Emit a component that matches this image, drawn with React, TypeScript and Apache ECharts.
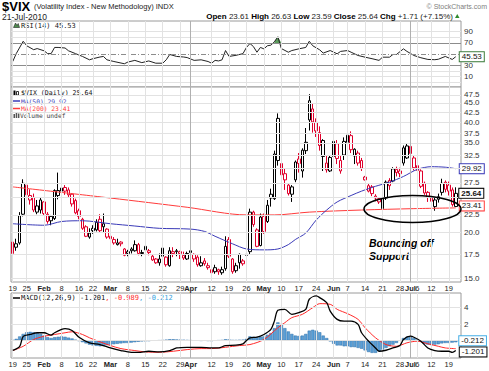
import React, { useEffect, useRef } from "react";
import * as echarts from "echarts";

// ---------- trading days (Jan 19 – Jul 21, 2010) ----------
const janDays = [19, 20, 21, 22, 25, 26, 27, 28, 29];
const febDays = [1, 2, 3, 4, 5, 8, 9, 10, 11, 12, 16, 17, 18, 19, 22, 23, 24, 25, 26];
const marDays = [1, 2, 3, 4, 5, 8, 9, 10, 11, 12, 15, 16, 17, 18, 19, 22, 23, 24, 25, 26, 29, 30, 31];
const aprDays = [1, 5, 6, 7, 8, 9, 12, 13, 14, 15, 16, 19, 20, 21, 22, 23, 26, 27, 28, 29, 30];
const mayDays = [3, 4, 5, 6, 7, 10, 11, 12, 13, 14, 17, 18, 19, 20, 21, 24, 25, 26, 27, 28];
const junDays = [1, 2, 3, 4, 7, 8, 9, 10, 11, 14, 15, 16, 17, 18, 21, 22, 23, 24, 25, 28, 29, 30];
const julDays = [1, 2, 6, 7, 8, 9, 12, 13, 14, 15, 16, 19, 20, 21];
const monthNames = ["Jan", "Feb", "Mar", "Apr", "May", "Jun", "Jul"];

// ---------- $VIX daily OHLC ----------
const opens = [
  18.9, 18.3, 18.8, 22.5, 27.0, 25.3, 25.0, 22.8, 23.1,
  24.3, 22.5, 22.2, 21.9, 25.3, 26.0, 26.6, 26.2, 25.5, 24.5, 23.0, 21.8, 20.8, 19.5, 20.3, 20.4, 21.8, 21.2, 20.5,
  19.6, 19.2, 18.6, 18.9, 18.1, 17.6, 18.1, 17.9, 18.6, 17.7, 18.4, 17.9, 17.3, 17.0, 16.6, 18.2, 17.2, 16.3, 17.8, 17.9, 17.8, 17.4, 17.0,
  17.9, 17.5, 17.2, 16.3, 16.8, 16.3, 15.9, 15.7, 15.9, 15.6, 16.0, 19.2, 17.0, 15.8, 17.5, 16.8, 17.4, 17.8, 22.8, 20.4, 18.5,
  22.2, 21.5, 25.5, 24.8, 31.5, 30.9, 29.0, 27.0, 25.5, 27.9, 31.8, 29.5, 33.5, 40.6, 43.5, 40.0, 37.5, 32.3, 31.0, 29.5,
  32.3, 35.0, 31.5, 32.6, 35.3, 36.8, 32.4, 33.0, 31.5, 27.9, 26.9, 26.7, 25.2, 24.8, 23.3, 24.9, 27.8, 27.7, 29.8, 29.5, 31.0, 32.0,
  34.4, 32.0, 30.5, 29.5, 27.3, 25.8, 24.9, 23.6, 24.7, 25.8, 27.5, 27.0, 26.2, 23.61,
];
const closes = [
  17.6, 18.7, 22.3, 27.3, 25.4, 24.6, 23.1, 23.7, 24.6,
  22.6, 21.5, 21.6, 26.1, 26.1, 26.5, 26.0, 25.4, 24.0, 22.7, 22.2, 20.6, 19.6, 20.0, 20.6, 21.4, 20.3, 20.8, 19.5,
  19.3, 18.8, 18.8, 18.7, 17.4, 17.8, 17.9, 18.6, 17.6, 17.6, 18.0, 17.7, 16.9, 16.6, 17.0, 17.3, 16.4, 17.9, 17.6, 17.8, 17.6, 17.1, 17.6,
  17.7, 17.0, 16.4, 16.6, 16.5, 16.1, 15.6, 16.1, 15.7, 15.9, 18.4, 17.3, 15.7, 16.3, 16.6, 16.5, 17.5, 22.8, 21.1, 18.4, 22.1,
  20.2, 23.8, 24.9, 32.8, 41.0, 28.8, 27.9, 25.6, 26.7, 31.2, 30.9, 33.6, 35.3, 45.8, 40.1, 37.9, 34.6, 35.7, 29.7, 32.1,
  35.5, 31.9, 29.5, 35.5, 36.9, 33.7, 33.8, 31.0, 30.0, 28.4, 26.0, 25.6, 24.9, 24.3, 24.9, 27.5, 26.9, 29.9, 29.2, 29.0, 34.1, 34.5,
  32.9, 30.1, 29.6, 26.8, 25.7, 25.0, 24.4, 24.6, 25.1, 27.3, 26.3, 26.0, 23.9, 25.64,
];
const lows = [
  17.5, 17.9, 18.6, 22.2, 24.9, 23.9, 22.8, 22.5, 22.6,
  22.4, 21.2, 21.0, 21.7, 24.7, 25.5, 25.4, 25.0, 23.6, 22.5, 21.8, 20.4, 19.5, 19.3, 19.9, 20.2, 20.1, 20.0, 19.3,
  19.0, 18.6, 18.5, 18.4, 17.3, 17.3, 17.6, 17.8, 17.4, 17.3, 17.8, 17.4, 16.8, 16.5, 16.3, 16.8, 16.2, 16.2, 17.2, 17.3, 17.0, 16.9, 16.9,
  17.3, 16.7, 16.2, 16.2, 16.3, 15.9, 15.2, 15.5, 15.4, 15.4, 15.8, 17.1, 15.5, 15.6, 16.0, 16.3, 16.9, 17.5, 20.8, 18.3, 18.4,
  19.9, 21.3, 23.6, 24.6, 30.5, 27.5, 26.2, 25.3, 24.3, 27.5, 29.2, 28.3, 32.8, 38.0, 37.5, 36.5, 33.5, 29.5, 29.2, 29.3,
  32.0, 30.8, 29.0, 31.6, 34.6, 33.0, 30.8, 30.5, 29.5, 27.8, 25.8, 25.2, 24.4, 24.0, 22.9, 24.6, 26.2, 27.5, 28.5, 28.4, 30.5, 31.8,
  31.5, 29.6, 29.0, 26.5, 25.4, 24.3, 23.2, 23.0, 24.2, 25.3, 25.8, 25.3, 23.6, 23.59,
];
const highs = [
  19.2, 19.3, 22.8, 28.0, 27.1, 26.3, 25.6, 24.6, 25.0,
  24.4, 22.8, 22.4, 26.3, 29.2, 27.3, 27.0, 26.6, 25.7, 24.8, 23.3, 22.0, 21.0, 20.6, 21.0, 21.8, 22.5, 22.6, 20.6,
  19.9, 19.5, 19.3, 19.0, 18.2, 18.0, 18.3, 19.1, 18.8, 18.0, 18.6, 18.1, 17.5, 17.1, 17.6, 18.3, 17.3, 18.3, 18.3, 18.1, 17.9, 17.8, 17.8,
  18.0, 17.6, 17.4, 17.3, 17.1, 16.6, 16.0, 16.4, 16.0, 16.2, 19.6, 19.5, 17.1, 16.6, 17.6, 17.0, 17.5, 23.3, 23.0, 20.6, 22.6,
  22.6, 24.6, 26.4, 33.5, 42.3, 31.2, 30.0, 27.2, 27.0, 31.5, 33.0, 34.0, 38.6, 47.7, 45.0, 41.0, 39.0, 36.0, 32.5, 32.6,
  36.0, 35.8, 32.5, 36.4, 37.5, 37.8, 34.0, 33.5, 32.0, 28.6, 27.2, 27.0, 25.5, 25.0, 25.2, 27.8, 28.2, 30.2, 30.3, 30.1, 34.6, 35.0,
  37.6, 32.5, 31.0, 29.8, 27.6, 26.0, 25.2, 24.9, 25.6, 28.1, 27.8, 27.6, 26.6, 26.63,
];
const priorClose = 17.91;

// ---------- overlays, read as [day index, value] ----------
const ma50 = [
  [0, 21.2], [9, 21.0], [14, 21.5], [20, 21.6], [28, 21.2], [35, 20.9], [42, 20.6], [51, 20.5], [55, 20.2],
  [58, 19.6], [63, 18.7], [67, 18.1], [72, 18.0], [76, 18.1], [79, 18.6], [81, 19.2], [84, 20.0], [87, 21.7],
  [90, 23.1], [93, 24.3], [97, 25.3], [100, 26.0], [104, 26.8], [108, 27.5], [112, 28.5], [116, 29.8],
  [120, 30.3], [124, 30.2], [127, 29.92],
];
const ma200 = [
  [0, 26.7], [28, 24.9], [50, 23.5], [67, 22.4], [75, 22.4], [85, 22.8], [100, 23.1], [115, 23.3], [127, 23.41],
];
const rsi = [
  [0, 37], [1, 51], [3, 73], [4, 65], [6, 58], [7, 60], [9, 56], [10, 51], [11, 51], [12, 62], [13, 62],
  [15, 61], [16, 56], [18, 51], [20, 46], [22, 40], [23, 42], [25, 45], [26, 46], [27, 40], [29, 37],
  [32, 33], [33, 36], [35, 39], [37, 35], [39, 38], [41, 34], [43, 34], [44, 40], [45, 49.5], [47, 46],
  [49, 45], [50, 44], [52, 39], [54, 40], [56, 37], [57, 34], [58, 39], [59, 38], [60, 40], [61, 56.5],
  [62, 46], [64, 48], [66, 51], [67, 62], [68, 69], [69, 63.5], [70, 53.5], [71, 62], [72, 59.5], [73, 65],
  [74, 66], [75, 72], [76, 81], [77, 60], [79, 53.5], [80, 56.5], [82, 59.5], [84, 62], [85, 73], [86, 65],
  [88, 57.7], [89, 52], [91, 56.5], [93, 50.7], [94, 55], [96, 56.5], [97, 53.5], [99, 47.7], [101, 44.7],
  [103, 42], [105, 39], [106, 44.7], [108, 44.7], [109, 49.5], [110, 49.5], [112, 59.5], [113, 55],
  [115, 47.7], [117, 43.7], [119, 40.7], [121, 40.2], [122, 41], [124, 46], [126, 40.7], [127, 45.53],
];
const rsiHot = [[75, 72], [76, 81], [77, 70]];
const macd = [
  [0, -1.2], [2, -0.7], [3, 0.5], [5, 0.73], [7, 0.94], [9, 0.94], [11, 0.65], [12, 0.94], [14, 1.34],
  [15, 1.43], [17, 1.22], [19, 0.4], [22, -0.28], [25, -0.49], [28, -0.9], [31, -1.22], [34, -1.43],
  [36, -1.43], [39, -1.3], [42, -1.38], [45, -1.22], [47, -0.9], [50, -0.82], [54, -0.82], [57, -0.9],
  [59, -0.9], [61, -0.61], [64, -0.57], [66, -0.4], [67, 0.0], [68, 0.33], [70, 0.4], [72, 0.73], [74, 1.34],
  [75, 2.35], [76, 3.66], [78, 3.78], [80, 3.17], [82, 3.38], [84, 3.78], [85, 5.0], [87, 5.4], [88, 5.2],
  [90, 4.6], [91, 3.57], [93, 2.56], [95, 2.35], [97, 2.35], [99, 1.95], [100, 0.94], [102, -0.08],
  [104, -0.9], [105, -1.3], [107, -1.18], [109, -0.9], [111, -0.61], [112, 0.12], [114, 0.52], [115, 0.4],
  [117, -0.08], [119, -0.9], [121, -1.22], [123, -1.3], [125, -1.3], [126, -1.43], [127, -1.201],
];
const signal = [
  [0, -1.22], [3, -0.7], [6, 0.12], [9, 0.52], [12, 0.73], [15, 0.94], [17, 1.06], [20, 0.73], [22, 0.33],
  [25, -0.16], [28, -0.61], [31, -0.98], [35, -1.22], [38, -1.38], [42, -1.43], [46, -1.3], [50, -1.1],
  [54, -0.98], [57, -0.98], [61, -0.82], [65, -0.61], [68, -0.49], [72, 0.12], [76, 1.55], [78, 2.16],
  [80, 2.77], [83, 3.17], [86, 3.98], [88, 4.47], [91, 4.39], [93, 3.78], [96, 3.25], [99, 2.56],
  [101, 1.55], [104, 0.33], [107, -0.49], [110, -0.7], [113, -0.28], [116, -0.08], [119, -0.4],
  [122, -0.7], [124, -0.9], [127, -0.989],
];
const hist = [
  0.05, 0.2, 0.5, 0.8, 1.0, 1.05, 1.0, 0.9, 0.8,
  0.6, 0.4, 0.3, 0.4, 0.45, 0.5, 0.45, 0.35, 0.25, 0.1, -0.05, -0.2,
  -0.35, -0.5, -0.6, -0.65, -0.7, -0.65, -0.55, -0.5, -0.45,
  -0.4, -0.35, -0.3, -0.3, -0.25, -0.2, -0.15, -0.1, -0.08,
  -0.05, 0.0, 0.0, 0.02, 0.05, 0.1, 0.15, 0.15, 0.12,
  0.1, 0.08, 0.05, 0.02, 0.0, 0.0, -0.02, 0.0, -0.03, -0.05, 0.0,
  0.02, 0.05, 0.15, 0.12, 0.05, 0.05, 0.08, 0.1,
  0.2, 0.5, 0.45, 0.4, 0.45, 0.5,
  0.7, 0.9, 1.5, 2.2, 2.0,
  1.5, 1.1, 0.8, 0.6, 0.55, 0.6,
  0.8, 1.2, 1.3, 1.2, 1.0,
  0.6, 0.3, -0.1,
  -0.4, -0.6, -0.6, -0.7, -0.7, -0.8, -0.8, -0.9, -1.0,
  -1.2, -1.4, -1.5, -1.5, -1.3, -1.1,
  -0.9, -0.7, -0.5, -0.3,
  0.0, 0.3, 0.45, 0.45,
  0.3, 0.1, -0.15, -0.4,
  -0.5, -0.55, -0.5, -0.45,
  -0.35, -0.3, -0.3, -0.25, -0.212,
];

// ---------- axis ticks ----------
const tickIdx = [0, 4, 9, 14, 19, 23, 28, 33, 38, 43, 48, 51, 57, 62, 67, 72, 77, 82, 87, 92, 96, 101, 106, 111, 114, 116, 120, 125];
const tickText = ["19", "25", "Feb", "8", "16", "22", "Mar", "8", "15", "22", "29", "Apr", "12", "19", "26", "May", "10", "17", "24", "Jun", "7", "14", "21", "28", "Jul", "6", "12", "19"];
const quarterIdx = [51, 114];
const priceTicks = [15, 17.5, 20, 22.5, 25, 27.5, 30, 32.5, 35, 37.5, 40, 42.5, 45, 47.5];
const priceHiddenLabels = [25, 30];
const rsiTicks = [90, 70, 50, 30, 10];
const rsiHiddenLabels = [50];
const rsiMinor = [80, 20, 0];
const macdTicks = [4, 2, 0];
const macdHiddenLabels = [0];

const FONT = '"Liberation Sans", Arial, sans-serif';
const MONO = '"DejaVu Sans Mono", monospace';
const RED = "#e0002c";
const BLUE_MA = "#3a3ab8";
const RED_MA = "#ff3b3b";

export default function App() {
  const ref = useRef<HTMLDivElement>(null);
  useEffect(() => {
    if (!ref.current) return;
    const chart = echarts.init(ref.current, undefined, { renderer: "svg" });

    const dates: string[] = [];
    [janDays, febDays, marDays, aprDays, mayDays, junDays, julDays].forEach((days, m) =>
      days.forEach((d) => dates.push(`${monthNames[m]} ${d}`))
    );
    const categories = [...dates, "Jul 22"];
    const months = new Set(monthNames);

    const candleData = closes.map((c, i) => {
      const prev = i === 0 ? priorClose : closes[i - 1];
      const col = c >= prev ? "#000000" : RED;
      return {
        value: [Math.log(opens[i]), Math.log(c), Math.log(lows[i]), Math.log(highs[i])],
        itemStyle: { color: "#ffffff", color0: col, borderColor: col, borderColor0: col, borderWidth: 1 },
      };
    });

    const vLines = tickIdx.map((ix) => ({
      xAxis: categories[ix],
      label: { show: false },
      lineStyle: { color: quarterIdx.includes(ix) ? "#b0b0b0" : "#e2e2e2", width: 1, type: "solid" },
    }));
    const hLabel = (txt: string, show = true) => ({
      show, position: "end", distance: 3, formatter: txt, color: "#333",
      fontSize: 8, fontFamily: FONT,
    });
    const lightLine = { color: "#e2e2e2", width: 1, type: "solid" };

    const rsiLines = [
      ...rsiTicks.map((v) => ({
        yAxis: v,
        label: hLabel(String(v), !rsiHiddenLabels.includes(v)),
        lineStyle:
          v === 70 || v === 30
            ? { color: "#8c8c8c", width: 1, type: "solid" }
            : v === 50
            ? { color: "#8c8c8c", width: 1, type: [5, 2, 1, 2] }
            : lightLine,
      })),
      ...rsiMinor.map((v) => ({ yAxis: v, label: { show: false }, lineStyle: lightLine })),
      ...vLines,
    ];
    const priceLines = [
      ...priceTicks.map((p) => ({
        yAxis: Math.log(p),
        label: hLabel(p.toFixed(1), !priceHiddenLabels.includes(p)),
        lineStyle: lightLine,
      })),
      ...vLines,
    ];
    const macdLines = [
      ...macdTicks.map((v) => ({
        yAxis: v,
        label: hLabel(String(v), !macdHiddenLabels.includes(v)),
        lineStyle: lightLine,
      })),
      ...vLines,
    ];

    const gridHost = (i: number, data: any[]) => ({
      type: "line", xAxisIndex: i, yAxisIndex: i, data: [], z: 0, silent: true,
      markLine: { symbol: ["none", "none"], silent: true, animation: false, data },
    });

    const tag = (txt: string, border: string, bold = false, dy = 0) => ({
      show: true, formatter: txt, color: "#111", fontSize: 8, fontFamily: FONT,
      fontWeight: bold ? "bold" : "normal", backgroundColor: "#fff", lineHeight: 8,
      borderColor: border, borderWidth: 1, padding: [1, 2, 0, 2], distance: 4,
      offset: [0, dy],
    });

    const xAx = (i: number, showLabels: boolean) => ({
      type: "category", gridIndex: i, data: categories, boundaryGap: true,
      axisLine: { show: false }, axisTick: { show: false }, splitLine: { show: false },
      axisLabel: {
        show: showLabels, margin: 2, fontSize: 7.5, fontFamily: FONT, color: "#222",
        interval: (index: number) => tickIdx.includes(index),
        formatter: (_v: string, index: number) => {
          const k = tickIdx.indexOf(index);
          if (k < 0) return "";
          const t = tickText[k];
          return months.has(t) ? `{b|${t}}` : t;
        },
        rich: { b: { fontWeight: "bold", fontSize: 7.5, fontFamily: FONT, color: "#222" } },
      },
    });
    const yAx = (i: number, min: number, max: number) => ({
      type: "value", gridIndex: i, min, max, position: "right", scale: true,
      axisLine: { show: false }, axisTick: { show: false }, axisLabel: { show: false }, splitLine: { show: false },
    });

    const gridBox = { show: true, borderColor: "#9a9a9a", borderWidth: 1, backgroundColor: "#fff" };

    const txt = (x: number, y: number, text: string, font: string, fill = "#000", align = "left") => ({
      type: "text", x, y, silent: true,
      style: { text, font, fill, textAlign: align, textVerticalAlign: "middle" },
    });

    chart.setOption({
      animation: false,
      backgroundColor: "#ffffff",
      grid: [
        { left: 11, top: 21, width: 450, height: 66, ...gridBox },
        { left: 11, top: 87, width: 450, height: 195, ...gridBox },
        { left: 11, top: 293, width: 450, height: 65, ...gridBox },
      ],
      xAxis: [xAx(0, false), xAx(1, true), xAx(2, true)],
      yAxis: [
        yAx(0, -8.3, 109),
        yAx(1, Math.log(14.72), Math.log(49.9)),
        yAx(2, -2.12, 5.76),
      ],
      series: [
        gridHost(0, rsiLines),
        gridHost(1, priceLines),
        gridHost(2, macdLines),
        // RSI overbought fill
        {
          type: "line", xAxisIndex: 0, yAxisIndex: 0, stack: "hot", symbol: "none", z: 2,
          data: rsiHot.map(([i]) => [i, 70]), lineStyle: { opacity: 0 },
        },
        {
          type: "line", xAxisIndex: 0, yAxisIndex: 0, stack: "hot", symbol: "none", z: 2,
          data: rsiHot.map(([i, v]) => [i, v - 70]), lineStyle: { opacity: 0 },
          areaStyle: { color: "#5b9a5b", opacity: 1 },
        },
        {
          type: "line", xAxisIndex: 0, yAxisIndex: 0, data: rsi, symbol: "none", z: 4,
          lineStyle: { color: "#222", width: 1 },
          endLabel: tag("45.53", "#3c7d3c"),
        },
        {
          type: "candlestick", xAxisIndex: 1, yAxisIndex: 1, data: candleData, barWidth: 3, z: 3,
          markPoint: {
            silent: true, animation: false,
            data: [{
              coord: [categories[127], Math.log(25.64)], symbol: "rect", symbolSize: 1,
              itemStyle: { color: "rgba(0,0,0,0)" },
              label: { ...tag("25.64", "#000", true), position: "right", distance: 3 },
            }],
          },
        },
        {
          type: "line", xAxisIndex: 1, yAxisIndex: 1, symbol: "none", smooth: 0.3, z: 4,
          data: ma200.map(([i, v]) => [i, Math.log(v)]),
          lineStyle: { color: RED_MA, width: 1 },
          endLabel: tag("23.41", RED_MA, false, -2),
        },
        {
          type: "line", xAxisIndex: 1, yAxisIndex: 1, symbol: "none", smooth: 0.3, z: 4,
          data: ma50.map(([i, v]) => [i, Math.log(v)]),
          lineStyle: { color: BLUE_MA, width: 1 },
          endLabel: tag("29.92", BLUE_MA),
        },
        {
          type: "bar", xAxisIndex: 2, yAxisIndex: 2, data: hist, barCategoryGap: "8%", z: 2,
          itemStyle: { color: "#5a9fd6", borderColor: "#2f6fa8", borderWidth: 0.5 },
          markPoint: {
            silent: true, animation: false,
            data: [{
              coord: [categories[127], -0.212], symbol: "rect", symbolSize: 1,
              itemStyle: { color: "rgba(0,0,0,0)" },
              label: { ...tag("-0.212", "#45aee6", false, -1.5), position: "right", distance: 3 },
            }],
          },
        },
        {
          type: "line", xAxisIndex: 2, yAxisIndex: 2, data: signal, symbol: "none", smooth: 0.3, z: 4,
          lineStyle: { color: "#ff2a2a", width: 1 },
        },
        {
          type: "line", xAxisIndex: 2, yAxisIndex: 2, data: macd, symbol: "none", smooth: 0.3, z: 5,
          lineStyle: { color: "#000", width: 1.3 },
          endLabel: tag("-1.201", "#000", false, 1.5),
        },
      ],
      graphic: [
        // header
        txt(2, 6, "$VIX", `bold 13px ${FONT}`),
        txt(34, 6.5, "(Volatility Index - New Methodology) INDX", `7.5px ${FONT}`, "#222"),
        txt(2, 17, "21-Jul-2010", `8.5px ${FONT}`, "#222"),
        {
          type: "text", x: 453, y: 16, silent: true,
          style: {
            text: "{b|Open} 23.61 {b|High} 26.63 {b|Low} 23.59 {b|Close} 25.64 {b|Chg} +1.71 (+7.15%)",
            font: `8px ${FONT}`, fill: "#222", textAlign: "right", textVerticalAlign: "middle",
            rich: { b: { font: `bold 8px ${FONT}`, fill: "#000" } },
          },
        },
        { type: "polygon", silent: true, shape: { points: [[455, 18], [459.5, 18], [457.25, 14]] }, style: { fill: "#2e8b2e" } },
        txt(487, 6, "\u00a9 StockCharts.com", `7px ${FONT}`, "#808080", "right"),
        // RSI legend
        { type: "polygon", silent: true, shape: { points: [[13.5, 27.5], [15.5, 23], [17, 25.5], [18.2, 23.5], [19.5, 27.5]] }, style: { fill: "#4f8f4f", stroke: "#222", lineWidth: 0.6 } },
        txt(21, 25.5, "RSI(14) 45.53", `7px ${MONO}`, "#222"),
        // main legend
        { type: "rect", silent: true, shape: { x: 13.5, y: 90.5, width: 2, height: 4.5 }, style: { fill: "#000" } },
        { type: "rect", silent: true, shape: { x: 16.5, y: 91.5, width: 2, height: 3.5 }, style: { fill: "#fff", stroke: "#000", lineWidth: 0.8 } },
        txt(21, 93.3, "$VIX (Daily) 25.64", `6.6px ${MONO}`, "#111"),
        { type: "line", silent: true, shape: { x1: 13, y1: 101, x2: 20, y2: 101 }, style: { stroke: BLUE_MA, lineWidth: 1.5 } },
        txt(21, 101, "MA(50) 29.92", `6.3px ${MONO}`, BLUE_MA),
        { type: "line", silent: true, shape: { x1: 13, y1: 108.5, x2: 20, y2: 108.5 }, style: { stroke: RED_MA, lineWidth: 1.5 } },
        txt(21, 108.5, "MA(200) 23.41", `6.3px ${MONO}`, RED_MA),
        { type: "rect", silent: true, shape: { x: 13.5, y: 114, width: 1.5, height: 4 }, style: { fill: "#555" } },
        { type: "rect", silent: true, shape: { x: 15.7, y: 112.5, width: 1.5, height: 5.5 }, style: { fill: "#555" } },
        { type: "rect", silent: true, shape: { x: 17.9, y: 113.5, width: 1.5, height: 4.5 }, style: { fill: "#555" } },
        txt(20, 115.8, "Volume undef", `6.3px ${MONO}`, "#444"),
        // MACD legend
        { type: "line", silent: true, shape: { x1: 13, y1: 298, x2: 20, y2: 298 }, style: { stroke: "#000", lineWidth: 1.5 } },
        {
          type: "text", x: 21, y: 298, silent: true,
          style: {
            text: "MACD(12,26,9) -1.201{r|, -0.989}{c|, -0.212}",
            font: `7px ${MONO}`, fill: "#111", textVerticalAlign: "middle",
            rich: { r: { font: `7px ${MONO}`, fill: "#ff2a2a" }, c: { font: `7px ${MONO}`, fill: "#3aa3e0" } },
          },
        },
        // annotation
        { type: "ellipse", silent: true, z: 100, shape: { cx: 412.5, cy: 209, rx: 48.5, ry: 13.5 }, style: { fill: "none", stroke: "#000", lineWidth: 1.5 } },
        txt(369, 242.5, "Bouncing off", `italic bold 10.5px ${FONT}`, "#000"),
        txt(369, 255.5, "Support", `italic bold 10.5px ${FONT}`, "#000"),
      ],
    });
    return () => chart.dispose();
  }, []);
  return <div ref={ref} style={{ position: "fixed", left: 0, top: 0, width: 489, height: 371 }} />;
}
